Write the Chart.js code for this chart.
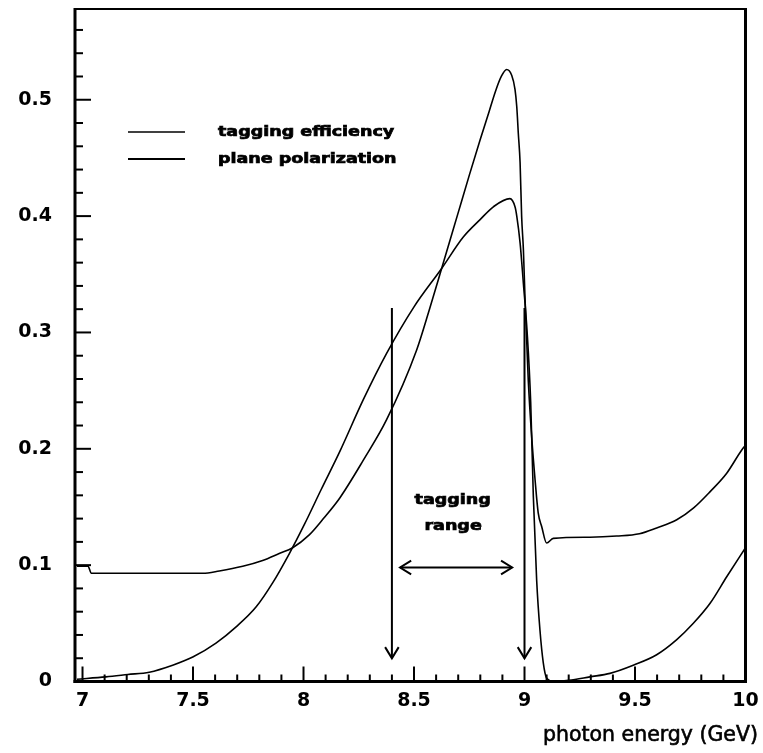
<!DOCTYPE html>
<html lang="en">
<head>
<meta charset="UTF-8">
<title>Tagging efficiency and plane polarization</title>
<script src="https://cdn.jsdelivr.net/npm/chart.js"></script>
<style>
  html, body { margin: 0; padding: 0; background: #fff; }
  #wrap { width: 763px; height: 753px; }
</style>
</head>
<body>
<div id="wrap"><canvas id="chart" width="763" height="753"></canvas></div>
<script>
// photon energy (GeV) -> tagging efficiency
const effEnergy = [6.975, 7.025, 7.04, 7.3, 7.544, 7.619, 7.725, 7.815, 7.89, 7.951,
  8.026, 8.09, 8.165, 8.27, 8.376, 8.512, 8.57, 8.625, 8.70, 8.75,
  8.80, 8.84, 8.87, 8.895, 8.919, 8.942, 8.957, 8.965, 8.972, 8.980,
  8.987, 8.995, 9.002, 9.017, 9.033, 9.048, 9.062, 9.078, 9.100, 9.130,
  9.296, 9.417, 9.520, 9.598, 9.689, 9.764, 9.839, 9.915, 9.983, 10.0];
const effValue = [0.099, 0.099, 0.093, 0.093, 0.093, 0.095, 0.099, 0.104, 0.110, 0.115,
  0.126, 0.140, 0.158, 0.190, 0.225, 0.285, 0.320, 0.355, 0.403, 0.435,
  0.466, 0.490, 0.508, 0.520, 0.526, 0.521, 0.509, 0.494, 0.471, 0.446,
  0.400, 0.371, 0.331, 0.259, 0.209, 0.173, 0.145, 0.133, 0.119, 0.123,
  0.124, 0.125, 0.127, 0.132, 0.139, 0.149, 0.163, 0.179, 0.199, 0.203];

// photon energy (GeV) -> plane polarization
const polEnergy = [6.975, 7.106, 7.205, 7.302, 7.408, 7.499, 7.604, 7.695, 7.785, 7.861,
  7.936, 8.004, 8.08, 8.165, 8.27, 8.376, 8.5, 8.625, 8.723, 8.799,
  8.859, 8.934, 8.957, 8.965, 8.980, 8.995, 9.012, 9.028, 9.040, 9.055,
  9.070, 9.085, 9.100, 9.13, 9.2, 9.296, 9.387, 9.492, 9.598, 9.689,
  9.764, 9.839, 9.915, 10.0];
const polValue = [0.002, 0.004, 0.006, 0.008, 0.014, 0.021, 0.033, 0.047, 0.064, 0.085,
  0.110, 0.135, 0.165, 0.198, 0.242, 0.282, 0.322, 0.355, 0.382, 0.397,
  0.408, 0.415, 0.408, 0.400, 0.377, 0.342, 0.300, 0.240, 0.159, 0.087,
  0.044, 0.016, 0.003, 0.0, 0.001, 0.004, 0.007, 0.014, 0.023, 0.036,
  0.050, 0.067, 0.090, 0.115];

const legendLabels = ['tagging efficiency', 'plane polarization'];
const xTickValues = [7, 7.5, 8, 8.5, 9, 9.5, 10];
const yTickValues = [0, 0.1, 0.2, 0.3, 0.4, 0.5];

// tagging range markers
const rangeEdges = [8.4, 9.0];
const rangeArrowTop = 0.321;
const rangeArrowTip = 0.020;
const rangeSpan = [8.437, 8.944];
const rangeSpanLevel = 0.098;
const rangeText = ['tagging', 'range'];
const rangeTextPos = [[8.675, 0.156], [8.677, 0.133]];

const toPoints = (xs, ys) => xs.map((x, i) => ({ x: x, y: ys[i] }));

// heavy text stretched sideways like the plotter font
function wideText(ctx, text, x, y, align) {
    ctx.save();
    ctx.translate(x, y);
    ctx.scale(1.25, 1);
    ctx.textAlign = align;
    ctx.lineWidth = 0.7;
    ctx.strokeText(text, 0, 0);
    ctx.fillText(text, 0, 0);
    ctx.restore();
}

function seg(ctx, x1, y1, x2, y2, w) {
    ctx.lineWidth = w;
    ctx.beginPath();
    ctx.moveTo(x1, y1);
    ctx.lineTo(x2, y2);
    ctx.stroke();
}

// open "V" head pointing from (x1,y1) towards (x2,y2)
function head(ctx, x1, y1, x2, y2, w) {
    const ang = Math.atan2(y2 - y1, x2 - x1);
    const len = 13, half = 0.55;
    ctx.lineWidth = w;
    ctx.beginPath();
    ctx.moveTo(x2 - len * Math.cos(ang - half), y2 - len * Math.sin(ang - half));
    ctx.lineTo(x2, y2);
    ctx.lineTo(x2 - len * Math.cos(ang + half), y2 - len * Math.sin(ang + half));
    ctx.stroke();
}

const framePlugin = {
    id: 'frame',
    afterDatasetsDraw(chart) {
        const { ctx, chartArea: a, scales: { x, y } } = chart;
        ctx.save();
        ctx.strokeStyle = '#000';
        ctx.fillStyle = '#000';
        ctx.lineCap = 'butt';

        // inward ticks on the energy axis, every 0.1 GeV
        for (let i = 0; i <= 30; i++) {
            const px = x.getPixelForValue(7 + i / 10);
            seg(ctx, px, a.bottom, px, a.bottom - (i % 5 === 0 ? 15 : 7), 2);
        }
        // inward ticks on the value axis, every 0.02
        for (let i = 0; i <= 28; i++) {
            const py = y.getPixelForValue(i * 0.02);
            seg(ctx, a.left, py, a.left + (i % 5 === 0 ? 16 : 8), py, 2);
        }

        // box
        seg(ctx, a.left, a.top, a.right, a.top, 2);
        seg(ctx, a.left, a.top - 1, a.left, a.bottom + 1.5, 3);
        seg(ctx, a.left - 1.5, a.bottom, a.right + 1.5, a.bottom, 3);
        seg(ctx, a.right, a.top - 1, a.right, a.bottom + 1.5, 3);

        // legend
        const sw = [1.5, 2];
        ctx.font = 'bold 14px "DejaVu Sans"';
        ctx.textBaseline = 'middle';
        legendLabels.forEach((label, i) => {
            const ly = a.top + 123 + i * 27;
            seg(ctx, a.left + 53, ly, a.left + 110, ly, sw[i]);
            wideText(ctx, label, a.left + 143, ly, 'left');
        });

        // arrows marking the tagged interval
        rangeEdges.forEach(e => {
            const px = x.getPixelForValue(e);
            const top = y.getPixelForValue(rangeArrowTop);
            const tip = y.getPixelForValue(rangeArrowTip);
            seg(ctx, px, top, px, tip, 2);
            head(ctx, px, top, px, tip, 2);
        });
        const hy = y.getPixelForValue(rangeSpanLevel);
        const hx1 = x.getPixelForValue(rangeSpan[0]);
        const hx2 = x.getPixelForValue(rangeSpan[1]);
        seg(ctx, hx1, hy, hx2, hy, 2);
        head(ctx, hx2, hy, hx1, hy, 2);
        head(ctx, hx1, hy, hx2, hy, 2);

        rangeText.forEach((t, i) => {
            wideText(ctx, t, x.getPixelForValue(rangeTextPos[i][0]),
                y.getPixelForValue(rangeTextPos[i][1]), 'center');
        });

        // axis title
        ctx.font = '20.5px "DejaVu Sans"';
        ctx.textAlign = 'right';
        ctx.textBaseline = 'alphabetic';
        ctx.lineWidth = 0.6;
        ctx.strokeText('photon energy (GeV)', a.right + 12.5, a.bottom + 59);
        ctx.fillText('photon energy (GeV)', a.right + 12.5, a.bottom + 59);
        ctx.restore();
    }
};

const lineStyle = {
    borderColor: '#000',
    borderWidth: 1.6,
    pointRadius: 0,
    fill: false,
    cubicInterpolationMode: 'monotone'
};

const tickFont = { family: 'DejaVu Sans', size: 19, weight: 'bold' };

new Chart(document.getElementById('chart'), {
    type: 'line',
    data: {
        datasets: [
            Object.assign({ label: legendLabels[0], data: toPoints(effEnergy, effValue) }, lineStyle),
            Object.assign({ label: legendLabels[1], data: toPoints(polEnergy, polValue) }, lineStyle)
        ]
    },
    options: {
        responsive: false,
        animation: false,
        devicePixelRatio: 1,
        layout: { padding: { top: 9, right: 17.5, left: 0, bottom: 0 } },
        plugins: {
            legend: { display: false },
            tooltip: { enabled: false }
        },
        scales: {
            x: {
                type: 'linear',
                min: 6.966,
                max: 10,
                grid: { display: false, drawTicks: false },
                border: { display: false },
                afterBuildTicks: s => { s.ticks = xTickValues.map(v => ({ value: v })); },
                afterFit: s => {
                    s.height = 71.5;
                    s.paddingLeft = 0;
                    s.paddingRight = 0;
                },
                ticks: {
                    color: '#000',
                    padding: 8,
                    maxRotation: 0,
                    autoSkip: false,
                    font: tickFont,
                    callback: v => String(v)
                }
            },
            y: {
                min: 0,
                max: 0.578,
                grid: { display: false, drawTicks: false },
                border: { display: false },
                afterBuildTicks: s => { s.ticks = yTickValues.map(v => ({ value: v })); },
                afterFit: s => {
                    s.width = 75;
                    s.paddingTop = 0;
                    s.paddingBottom = 0;
                },
                ticks: {
                    color: '#000',
                    padding: 23,
                    autoSkip: false,
                    font: tickFont,
                    callback: v => String(v)
                }
            }
        }
    },
    plugins: [framePlugin]
});
</script>
</body>
</html>
